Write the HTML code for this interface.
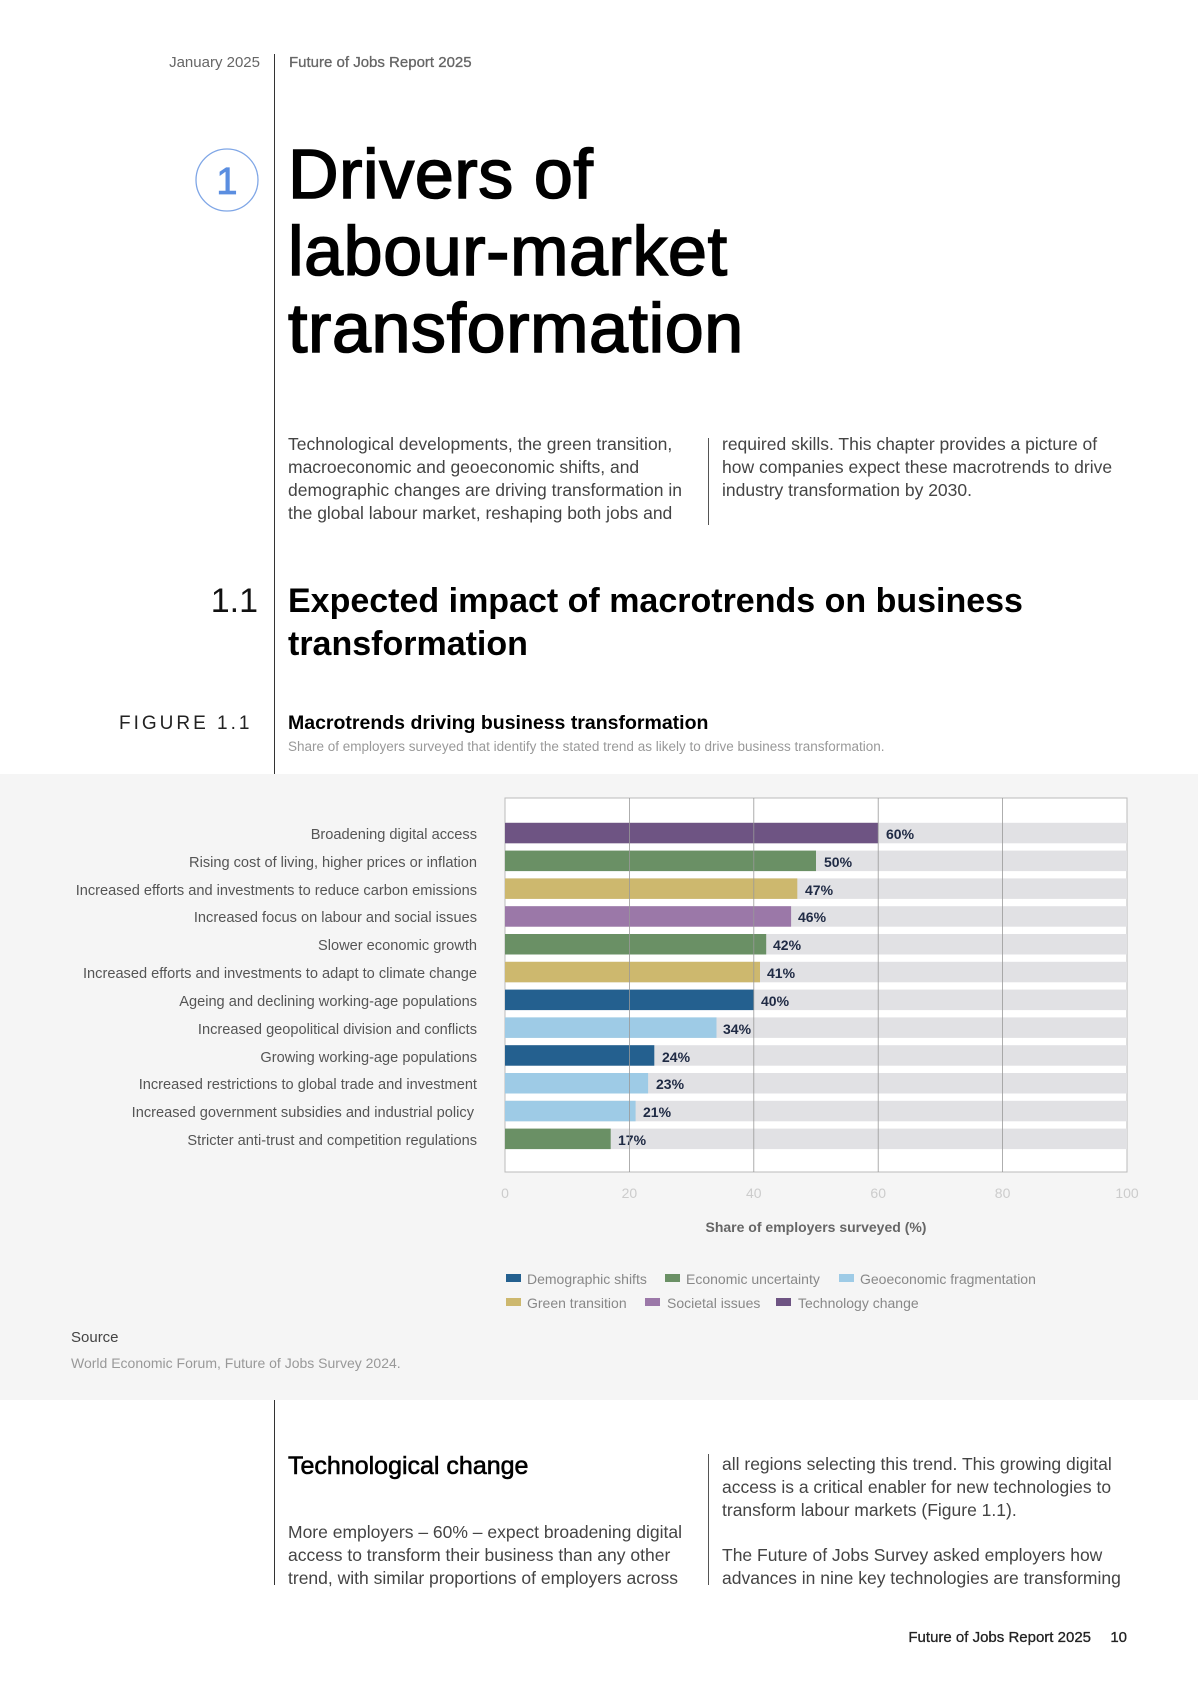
<!DOCTYPE html>
<html><head><meta charset="utf-8"><style>
html,body{margin:0;padding:0;background:#fff;}
svg{display:block;font-family:"Liberation Sans",Arial,sans-serif;}
</style></head><body>
<svg width="1200" height="1697" viewBox="0 0 1200 1697" xmlns="http://www.w3.org/2000/svg">
<rect width="1200" height="1697" fill="#fff"/>
<rect x="0" y="774" width="1198" height="626" fill="#f5f5f5"/>
<line x1="274.5" y1="54" x2="274.5" y2="774" stroke="#333" stroke-width="1"/>
<line x1="274.5" y1="1400" x2="274.5" y2="1585" stroke="#333" stroke-width="1"/>
<line x1="708.5" y1="438" x2="708.5" y2="525" stroke="#555" stroke-width="1"/>
<line x1="708.5" y1="1454" x2="708.5" y2="1585" stroke="#555" stroke-width="1"/>
<text x="260" y="67" font-size="15" fill="#666" text-anchor="end">January 2025</text>
<text x="289" y="67" font-size="15" fill="#666" stroke="#666" stroke-width="0.3">Future of Jobs Report 2025</text>
<circle cx="227" cy="180" r="31" fill="none" stroke="#7fa6e6" stroke-width="1.3"/>
<text x="227" y="194" font-size="38" fill="#5b8ee0" text-anchor="middle" stroke="#5b8ee0" stroke-width="0.8">1</text>
<g font-size="70" fill="#000" stroke="#000" stroke-width="1.6" letter-spacing="0.6">
<text x="288" y="198">Drivers of</text>
<text x="288" y="275">labour-market</text>
<text x="288" y="352">transformation</text>
</g>
<g font-size="17.5" fill="#444">
<text x="288" y="450">Technological developments, the green transition,</text>
<text x="288" y="473">macroeconomic and geoeconomic shifts, and</text>
<text x="288" y="496">demographic changes are driving transformation in</text>
<text x="288" y="519">the global labour market, reshaping both jobs and</text>
<text x="722" y="450">required skills. This chapter provides a picture of</text>
<text x="722" y="473">how companies expect these macrotrends to drive</text>
<text x="722" y="496">industry transformation by 2030.</text>
</g>
<text x="258" y="612" font-size="34" fill="#111" text-anchor="end">1.1</text>
<g font-size="34" fill="#000" font-weight="bold">
<text x="288" y="612">Expected impact of macrotrends on business</text>
<text x="288" y="655">transformation</text>
</g>
<text x="119" y="729" font-size="19" fill="#222" letter-spacing="3">FIGURE 1.1</text>
<text x="288" y="729" font-size="19.5" fill="#000" font-weight="bold">Macrotrends driving business transformation</text>
<text x="288" y="751" font-size="13.5" fill="#999">Share of employers surveyed that identify the stated trend as likely to drive business transformation.</text>
<rect x="505" y="798" width="622" height="374" fill="#fff" stroke="#bbb" stroke-width="1"/>
<g font-size="14">
<g fill="#e1e1e4">
<rect x="505" y="822.8" width="622" height="20.5"/>
<rect x="505" y="850.6" width="622" height="20.5"/>
<rect x="505" y="878.4" width="622" height="20.5"/>
<rect x="505" y="906.2" width="622" height="20.5"/>
<rect x="505" y="934.0" width="622" height="20.5"/>
<rect x="505" y="961.8" width="622" height="20.5"/>
<rect x="505" y="989.6" width="622" height="20.5"/>
<rect x="505" y="1017.4" width="622" height="20.5"/>
<rect x="505" y="1045.2" width="622" height="20.5"/>
<rect x="505" y="1073.0" width="622" height="20.5"/>
<rect x="505" y="1100.8" width="622" height="20.5"/>
<rect x="505" y="1128.6" width="622" height="20.5"/>
</g>
<rect x="505" y="822.8" width="373.2" height="20.5" fill="#6e5483"/>
<rect x="505" y="850.6" width="311" height="20.5" fill="#6a9065"/>
<rect x="505" y="878.4" width="292.3" height="20.5" fill="#cdb86e"/>
<rect x="505" y="906.2" width="286.1" height="20.5" fill="#9b78a8"/>
<rect x="505" y="934.0" width="261.2" height="20.5" fill="#6a9065"/>
<rect x="505" y="961.8" width="255" height="20.5" fill="#cdb86e"/>
<rect x="505" y="989.6" width="248.8" height="20.5" fill="#24608f"/>
<rect x="505" y="1017.4" width="211.5" height="20.5" fill="#9ecbe6"/>
<rect x="505" y="1045.2" width="149.3" height="20.5" fill="#24608f"/>
<rect x="505" y="1073.0" width="143.1" height="20.5" fill="#9ecbe6"/>
<rect x="505" y="1100.8" width="130.6" height="20.5" fill="#9ecbe6"/>
<rect x="505" y="1128.6" width="105.7" height="20.5" fill="#6a9065"/>
<g fill="#1f2a44" font-weight="bold">
<text x="886" y="839">60%</text>
<text x="824" y="867">50%</text>
<text x="805" y="895">47%</text>
<text x="798" y="922">46%</text>
<text x="773" y="950">42%</text>
<text x="767" y="978">41%</text>
<text x="761" y="1006">40%</text>
<text x="723" y="1034">34%</text>
<text x="662" y="1062">24%</text>
<text x="656" y="1089">23%</text>
<text x="643" y="1117">21%</text>
<text x="618" y="1145">17%</text>
</g>
<g fill="#555" text-anchor="end" font-size="14.6">
<text x="477" y="839">Broadening digital access</text>
<text x="477" y="867">Rising cost of living, higher prices or inflation</text>
<text x="477" y="895">Increased efforts and investments to reduce carbon emissions</text>
<text x="477" y="922">Increased focus on labour and social issues</text>
<text x="477" y="950">Slower economic growth</text>
<text x="477" y="978">Increased efforts and investments to adapt to climate change</text>
<text x="477" y="1006">Ageing and declining working-age populations</text>
<text x="477" y="1034">Increased geopolitical division and conflicts</text>
<text x="477" y="1062">Growing working-age populations</text>
<text x="477" y="1089">Increased restrictions to global trade and investment</text>
<text x="474" y="1117">Increased government subsidies and industrial policy</text>
<text x="477" y="1145">Stricter anti-trust and competition regulations</text>
</g>
</g>
<g stroke="#999" stroke-width="0.8">
<line x1="629.4" y1="798" x2="629.4" y2="1172"/>
<line x1="753.8" y1="798" x2="753.8" y2="1172"/>
<line x1="878.2" y1="798" x2="878.2" y2="1172"/>
<line x1="1002.6" y1="798" x2="1002.6" y2="1172"/>
</g>
<g font-size="14" fill="#ccc" text-anchor="middle">
<text x="505" y="1198">0</text><text x="629.4" y="1198">20</text><text x="753.8" y="1198">40</text>
<text x="878.2" y="1198">60</text><text x="1002.6" y="1198">80</text><text x="1127" y="1198">100</text>
</g>
<text x="816" y="1232" font-size="14" fill="#666" font-weight="bold" text-anchor="middle">Share of employers surveyed (%)</text>
<g font-size="14" fill="#888">
<rect x="506" y="1274" width="15" height="8" fill="#24608f"/><text x="527" y="1284">Demographic shifts</text>
<rect x="665" y="1274" width="15" height="8" fill="#6a9065"/><text x="686" y="1284">Economic uncertainty</text>
<rect x="839" y="1274" width="15" height="8" fill="#9ecbe6"/><text x="860" y="1284">Geoeconomic fragmentation</text>
<rect x="506" y="1298" width="15" height="8" fill="#cdb86e"/><text x="527" y="1308">Green transition</text>
<rect x="645" y="1298" width="15" height="8" fill="#9b78a8"/><text x="667" y="1308">Societal issues</text>
<rect x="776" y="1298" width="15" height="8" fill="#6e5483"/><text x="798" y="1308">Technology change</text>
</g>
<text x="71" y="1342" font-size="15" fill="#444">Source</text>
<text x="71" y="1368" font-size="14" fill="#999">World Economic Forum, Future of Jobs Survey 2024.</text>
<text x="288" y="1474" font-size="25" fill="#000" stroke="#000" stroke-width="0.6">Technological change</text>
<g font-size="17.5" fill="#444">
<text x="288" y="1538">More employers – 60% – expect broadening digital</text>
<text x="288" y="1561">access to transform their business than any other</text>
<text x="288" y="1584">trend, with similar proportions of employers across</text>
<text x="722" y="1470">all regions selecting this trend. This growing digital</text>
<text x="722" y="1493">access is a critical enabler for new technologies to</text>
<text x="722" y="1516">transform labour markets (Figure 1.1).</text>
<text x="722" y="1561">The Future of Jobs Survey asked employers how</text>
<text x="722" y="1584">advances in nine key technologies are transforming</text>
</g>
<text x="1091" y="1642" font-size="15" fill="#222" text-anchor="end" stroke="#222" stroke-width="0.3">Future of Jobs Report 2025</text>
<text x="1127" y="1642" font-size="15" fill="#222" text-anchor="end" stroke="#222" stroke-width="0.3">10</text>
</svg>
</body></html>
